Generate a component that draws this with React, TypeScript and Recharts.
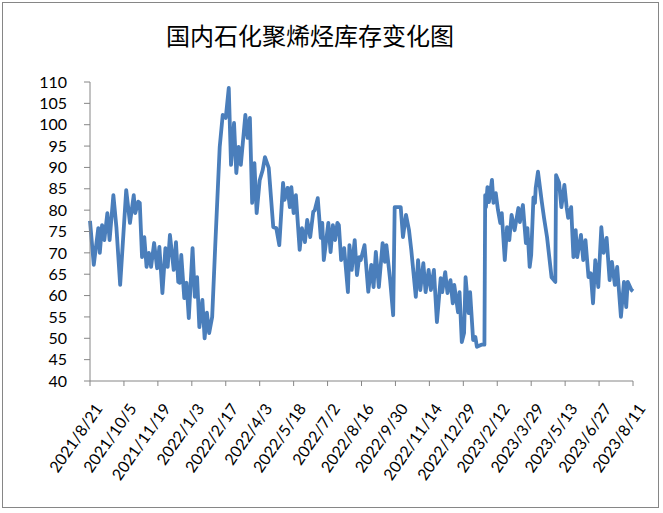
import { CartesianGrid, Line, LineChart, XAxis, YAxis } from "recharts";

// days since 2021/8/21
const dayOffset = [
  0, 5, 11, 13, 16, 19, 23, 26, 31, 35,
  40, 48, 53, 58, 60, 64, 66, 69, 72, 75,
  78, 81, 85, 89, 92, 96, 100, 103, 106, 111,
  114, 117, 119, 121, 125, 128, 131, 136, 139, 142,
  145, 149, 152, 155, 158, 162, 166, 172, 176, 180,
  184, 187, 191, 194, 197, 200, 206, 209, 212, 215,
  218, 221, 225, 229, 232, 237, 243, 247, 251, 256,
  258, 262, 265, 267, 270, 273, 278, 281, 285, 288,
  292, 296, 298, 302, 306, 308, 310, 316, 319, 322,
  325, 328, 330, 333, 337, 342, 344, 347, 351, 354,
  357, 359, 364, 369, 373, 376, 379, 383, 388, 391,
  393, 398, 402, 404, 412, 415, 419, 423, 426, 432,
  435, 438, 442, 445, 449, 452, 456, 460, 465, 467,
  471, 474, 478, 481, 483, 488, 490, 493, 496, 498,
  502, 504, 508, 511, 513, 519, 523, 524, 525, 527,
  529, 533, 535, 538, 541, 544, 546, 550, 553, 556,
  559, 563, 568, 570, 574, 578, 580, 583, 585, 588,
  590, 591, 594, 599, 602, 606, 612, 617, 618, 622,
  625, 629, 632, 634, 638, 641, 644, 646, 651, 654,
  657, 661, 664, 667, 670, 674, 678, 681, 685, 689,
  692, 696, 699, 704, 708, 711, 713, 718, 720,
];

// inventory
const stockValues = [
  77.5, 67.2, 75.8, 70, 76.5, 73, 79.3, 73, 83.5, 76,
  62.5, 84.7, 77, 83.5, 79.3, 82, 81.7, 69, 73.7, 66.7,
  70, 66.7, 72.3, 66.4, 71.4, 60.6, 71.1, 66.7, 74.2, 66,
  72.5, 63.2, 63, 69.5, 59.4, 63, 54.7, 71.1, 59.7, 64.3,
  52.6, 59, 50, 56, 51.2, 55, 71.4, 94.8, 102.3, 101.6,
  108.6, 90.6, 100.4, 88.7, 94.8, 90.6, 102.3, 96.9, 101.6, 81.7,
  91, 79.3, 87, 89.4, 92.4, 89.9, 76, 75.8, 71.8, 86.4,
  82.4, 85.2, 80.7, 85.4, 79.3, 83.5, 70.7, 75.8, 72.5, 77.7,
  73.7, 79.6, 80, 82.8, 73.5, 77, 68.3, 77, 70.2, 76.5,
  73, 77, 76.5, 68.3, 71.1, 60.8, 71.8, 66, 73, 64.8,
  69, 68.3, 71.8, 60.9, 67.2, 62, 70.2, 62, 72.3, 67.9,
  71.8, 63.6, 55.4, 80.7, 80.7, 73.7, 78.9, 75.3, 70.7, 59.7,
  68.3, 61.3, 67.6, 60.8, 66, 61.3, 66, 53.8, 64.1, 60.8,
  65.5, 60.6, 63.6, 58.2, 62.5, 56.1, 60.8, 49.1, 51.2, 64.3,
  55.9, 60.8, 49.6, 50.3, 48, 48.5, 48.5, 83.5, 80.7, 85.4,
  81.9, 87.1, 81.7, 84, 80, 77, 79.3, 68.3, 76, 73,
  78.9, 75.3, 80.5, 77.2, 81.2, 72.3, 75.8, 66.7, 69.5, 83,
  81.7, 85.2, 89, 82, 78.2, 73.7, 64.3, 63.2, 88.2, 86.4,
  80.7, 85.9, 80.7, 78.2, 80.7, 69, 75.3, 69, 74.2, 68.3,
  73, 64.3, 65.2, 58.2, 68.3, 62, 76, 70, 73.5, 63.6,
  67.9, 62.5, 66.7, 55, 63.2, 57.3, 63.2, 61.3, 61,
];

const xTickLabels = [
  "2021/8/21", "2021/10/5", "2021/11/19", "2022/1/3", "2022/2/17", "2022/4/3",
  "2022/5/18", "2022/7/2", "2022/8/16", "2022/9/30", "2022/11/14", "2022/12/29",
  "2023/2/12", "2023/3/29", "2023/5/13", "2023/6/27", "2023/8/11",
];
const yTicks = [40, 45, 50, 55, 60, 65, 70, 75, 80, 85, 90, 95, 100, 105, 110];

const TICK_STEP = 45; // days between x labels
const xTicks = xTickLabels.map((_, i) => i * TICK_STEP);

const data = dayOffset.map((day, i) => ({ day, stock: stockValues[i] }));

const AXIS = "#868686";
const FONT = "Lato, 'Noto Sans', sans-serif";

function DateTick({ x, y, payload }: any) {
  const label = xTickLabels[Math.round(payload.value / TICK_STEP)];
  const ax = x + 8;
  const ay = y + 19;
  return (
    <text
      x={ax}
      y={ay}
      transform={`rotate(-55, ${ax}, ${ay})`}
      textAnchor="end"
      dominantBaseline="central"
      fontSize={16}
      fontFamily={FONT}
      fill="#000"
    >
      {label}
    </text>
  );
}

export default function App() {
  return (
    <div style={{ position: "relative", width: 663, height: 513, background: "#fff" }}>
      <style>{"body{margin:0}"}</style>
      <div
        style={{
          position: "absolute",
          left: 2,
          top: 2,
          width: 655,
          height: 504,
          border: `1px solid ${AXIS}`,
          pointerEvents: "none",
        }}
      />
      <div
        style={{
          position: "absolute",
          left: 0,
          width: 620,
          top: 20,
          textAlign: "center",
          fontFamily: "'Noto Sans CJK SC', sans-serif",
          fontSize: 24,
          lineHeight: "30px",
          color: "#000",
        }}
      >
        国内石化聚烯烃库存变化图
      </div>
      <LineChart
        width={663}
        height={513}
        data={data}
        margin={{ top: 82, right: 30, bottom: 32, left: 0 }}
      >
        <CartesianGrid horizontal={false} vertical={false} />
        <XAxis
          dataKey="day"
          type="number"
          domain={[0, 720]}
          ticks={xTicks}
          interval={0}
          height={100}
          tickSize={5}
          tickMargin={0}
          stroke={AXIS}
          tick={<DateTick />}
        />
        <YAxis
          type="number"
          domain={[40, 110]}
          ticks={yTicks}
          interval={0}
          width={90}
          tickSize={6}
          tickMargin={17}
          stroke={AXIS}
          tick={{ fontSize: 16, fill: "#000", fontFamily: FONT }}
        />
        <Line
          type="linear"
          dataKey="stock"
          stroke="#4A7EBB"
          strokeWidth={3.8}
          strokeLinejoin="round"
          dot={false}
          isAnimationActive={false}
        />
      </LineChart>
    </div>
  );
}
